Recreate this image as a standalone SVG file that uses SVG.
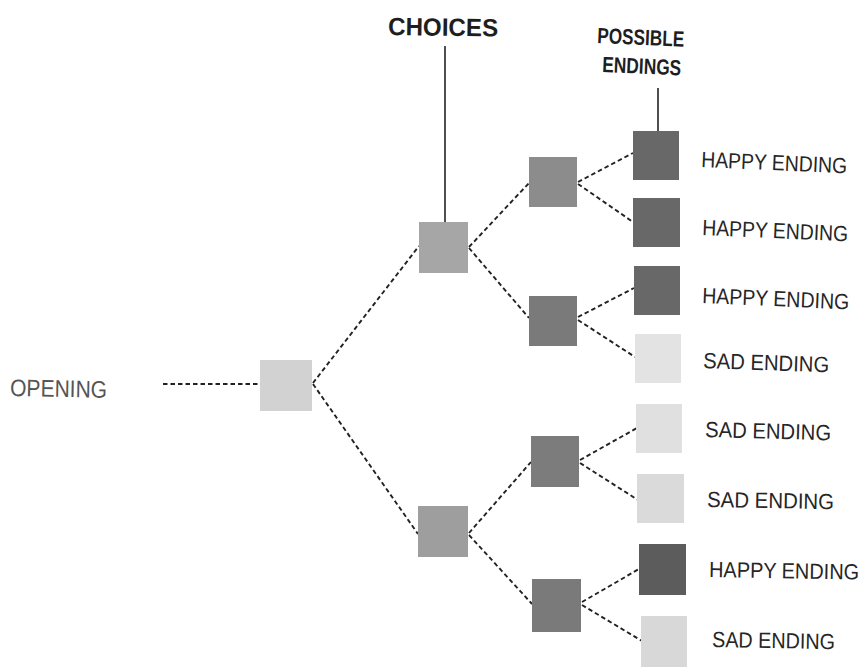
<svg xmlns="http://www.w3.org/2000/svg" width="863" height="671" viewBox="0 0 863 671">
<style>
.dash{fill:none;stroke:#222;stroke-width:1.9;stroke-dasharray:4.5 3}
.solid{fill:none;stroke:#222;stroke-width:1.6}
.lbl{font-family:"Liberation Sans",Arial,sans-serif;font-size:20px;fill:#262626}
.hdr{font-family:"Liberation Sans",Arial,sans-serif;font-size:22px;font-weight:bold;fill:#1e1e1e}
.open{font-family:"Liberation Sans",Arial,sans-serif;font-size:24px;fill:#555}
.happy{fill:#686868}
.sad{fill:#e0e0e0}
</style>
<rect width="863" height="671" fill="#ffffff"/>
<g id="connectors">
<line class="dash" x1="163" y1="384" x2="258" y2="384"/>
<line class="dash" x1="313" y1="383" x2="419" y2="246"/>
<line class="dash" x1="313" y1="384" x2="418" y2="534"/>
<line class="dash" x1="469" y1="247" x2="529" y2="183"/>
<line class="dash" x1="469" y1="248" x2="529" y2="318"/>
<line class="dash" x1="578" y1="182" x2="633" y2="153"/>
<line class="dash" x1="578" y1="184" x2="633" y2="222"/>
<line class="dash" x1="578" y1="317" x2="634" y2="288"/>
<line class="dash" x1="578" y1="320" x2="635" y2="357"/>
<line class="dash" x1="469" y1="533" x2="531" y2="462"/>
<line class="dash" x1="469" y1="535" x2="532" y2="604"/>
<line class="dash" x1="580" y1="460" x2="637" y2="428"/>
<line class="dash" x1="580" y1="463" x2="638" y2="500"/>
<line class="dash" x1="582" y1="602" x2="639" y2="569"/>
<line class="dash" x1="582" y1="605" x2="642" y2="641"/>
<line class="solid" x1="445" y1="46" x2="445" y2="222"/>
<line class="solid" x1="658" y1="88" x2="658" y2="131"/>
</g>
<g id="headers">
<text class="hdr" x="388" y="35" style="font-size:25px" textLength="110" lengthAdjust="spacingAndGlyphs" transform="rotate(0.8 388 35)">CHOICES</text>
<text class="hdr" x="597" y="43" textLength="87" lengthAdjust="spacingAndGlyphs" transform="rotate(2.5 597 43)">POSSIBLE</text>
<text class="hdr" x="602" y="72" textLength="79" lengthAdjust="spacingAndGlyphs" transform="rotate(2.5 602 72)">ENDINGS</text>
</g>
<g id="opening">
<rect x="260" y="360" width="52" height="51" fill="#d2d2d2"/>
<text class="open" x="10" y="396" textLength="97" lengthAdjust="spacingAndGlyphs" transform="rotate(1 10 396)">OPENING</text>
</g>
<g id="choice-1"><rect x="419" y="222" width="49" height="51" fill="#a6a6a6"/></g>
<g id="choice-2"><rect x="418" y="506" width="50" height="51" fill="#9e9e9e"/></g>
<g id="choice-1a"><rect x="529" y="157" width="48" height="50" fill="#8c8c8c"/></g>
<g id="choice-1b"><rect x="529" y="296" width="48" height="50" fill="#7a7a7a"/></g>
<g id="choice-2a"><rect x="531" y="436" width="48" height="51" fill="#7c7c7c"/></g>
<g id="choice-2b"><rect x="532" y="579" width="49" height="53" fill="#7a7a7a"/></g>
<g id="ending-1">
<rect class="happy" x="633" y="131" width="46" height="49"/>
<text class="lbl" x="0" y="0" textLength="146" lengthAdjust="spacingAndGlyphs" transform="translate(701 167) rotate(2.5) scale(1 1.1)">HAPPY ENDING</text>
</g>
<g id="ending-2">
<rect class="happy" x="633" y="198" width="47" height="49"/>
<text class="lbl" x="0" y="0" textLength="146" lengthAdjust="spacingAndGlyphs" transform="translate(702 235) rotate(2.5) scale(1 1.1)">HAPPY ENDING</text>
</g>
<g id="ending-3">
<rect class="happy" x="634" y="266" width="46" height="49"/>
<text class="lbl" x="0" y="0" textLength="147" lengthAdjust="spacingAndGlyphs" transform="translate(702 303) rotate(2.5) scale(1 1.1)">HAPPY ENDING</text>
</g>
<g id="ending-4">
<rect class="sad" x="635" y="334" width="46" height="49" style="fill:#e3e3e3"/>
<text class="lbl" x="0" y="0" textLength="126" lengthAdjust="spacingAndGlyphs" transform="translate(703 368) rotate(2) scale(1 1.1)">SAD ENDING</text>
</g>
<g id="ending-5">
<rect class="sad" x="636" y="404" width="46" height="49"/>
<text class="lbl" x="0" y="0" textLength="126" lengthAdjust="spacingAndGlyphs" transform="translate(705 437) rotate(1.5) scale(1 1.1)">SAD ENDING</text>
</g>
<g id="ending-6">
<rect class="sad" x="637" y="474" width="47" height="49" style="fill:#dadada"/>
<text class="lbl" x="0" y="0" textLength="127" lengthAdjust="spacingAndGlyphs" transform="translate(707 507) rotate(1) scale(1 1.1)">SAD ENDING</text>
</g>
<g id="ending-7">
<rect class="happy" x="639" y="544" width="47" height="51" style="fill:#5c5c5c"/>
<text class="lbl" x="0" y="0" textLength="150" lengthAdjust="spacingAndGlyphs" transform="translate(709 577) rotate(1) scale(1 1.1)">HAPPY ENDING</text>
</g>
<g id="ending-8">
<rect class="sad" x="641" y="616" width="46" height="51" style="fill:#d8d8d8"/>
<text class="lbl" x="0" y="0" textLength="123" lengthAdjust="spacingAndGlyphs" transform="translate(712 647) rotate(1) scale(1 1.1)">SAD ENDING</text>
</g>
</svg>
